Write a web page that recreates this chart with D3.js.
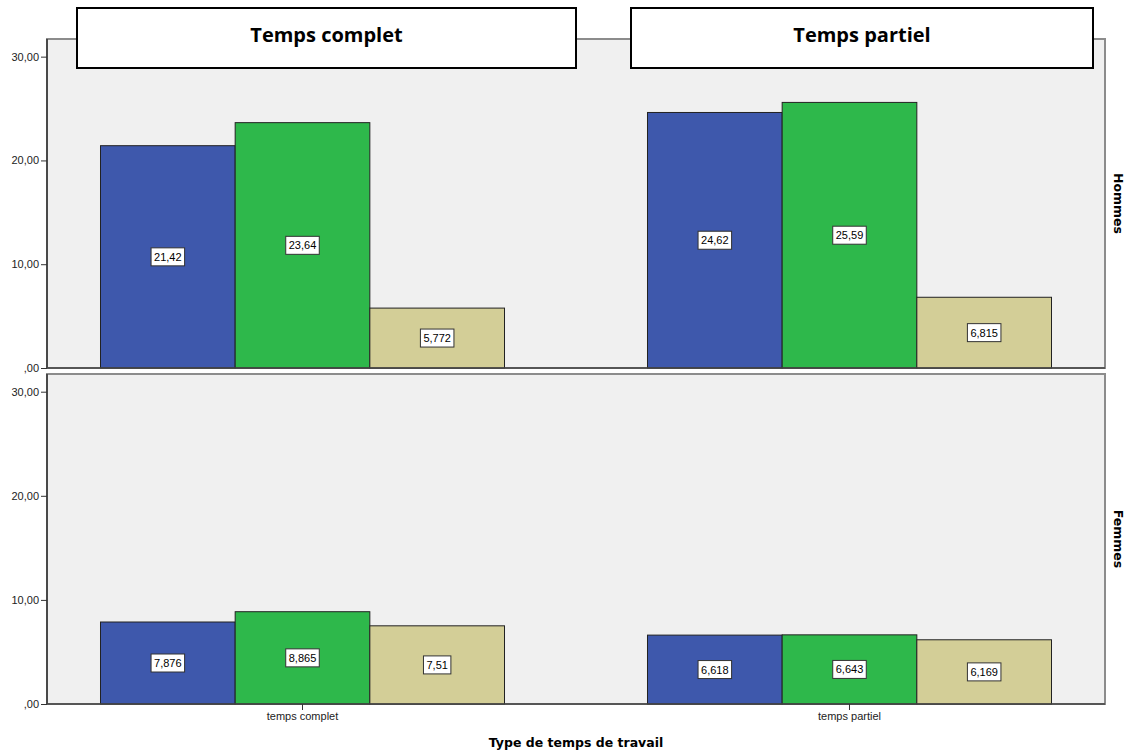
<!DOCTYPE html>
<html><head><meta charset="utf-8">
<script src="https://cdn.jsdelivr.net/npm/d3@7"></script>
<style>body{margin:0;background:#fff}svg{display:block}</style>
</head><body>
<svg id="c" width="1130" height="753"></svg>
<script>
// ---- data ----
const columns = ["temps complet", "temps partiel"];
const columnTitles = ["Temps complet", "Temps partiel"];
const rows = ["Hommes", "Femmes"];
const seriesKeys = ["s1", "s2", "s3"];
const hommesValues = [[21.42, 23.64, 5.772], [24.62, 25.59, 6.815]];
const femmesValues = [[7.876, 8.865, 7.51], [6.618, 6.643, 6.169]];
const yTicks = [0, 10, 20, 30];
const xTitle = "Type de temps de travail";

const colors = ["#3e58ac", "#2eb84b", "#d3ce97"];
const svg = d3.select("#c");
const font = "'Liberation Sans', Arial, sans-serif";
const boldFont = "'DejaVu Sans', Verdana, sans-serif";

const left = 47, right = 1105;
const panels = [
  {name: rows[0], top: 39, bottom: 368, values: hommesValues},
  {name: rows[1], top: 374, bottom: 704, values: femmesValues}
];

const x0 = d3.scaleBand().domain(columns).range([left, right]).paddingInner(0.2614).paddingOuter(0.0978);
const x1 = d3.scaleBand().domain(seriesKeys).range([0, x0.bandwidth()]).padding(0);

const fmtTick = v => v === 0 ? ",00" : d3.format(".2f")(v).replace(".", ",");
const fmtVal = v => d3.format(".4~r")(v).replace(".", ",");

panels.forEach(p => {
  const y = d3.scaleLinear().domain([0, 31.7]).range([p.bottom, p.top]);
  const g = svg.append("g");
  g.append("rect").attr("x", left).attr("y", p.top).attr("width", right - left).attr("height", p.bottom - p.top)
    .attr("fill", "#f0f0f0").attr("stroke", "#8c8c8c").attr("stroke-width", 2);
  const data = [];
  columns.forEach((c, ci) => seriesKeys.forEach((s, si) => data.push({c, s, si, v: p.values[ci][si]})));
  g.selectAll("rect.bar").data(data).join("rect").attr("class", "bar")
    .attr("x", d => x0(d.c) + x1(d.s)).attr("width", x1.bandwidth())
    .attr("y", d => y(d.v)).attr("height", d => y(0) - y(d.v))
    .attr("fill", d => colors[d.si]).attr("stroke", "#222").attr("stroke-width", 1);
  const lg = g.selectAll("g.lab").data(data).join("g").attr("class", "lab")
    .attr("transform", d => `translate(${x0(d.c) + x1(d.s) + x1.bandwidth() / 2},${(y(d.v) + y(0)) / 2})`);
  lg.each(function(d) {
    const t = fmtVal(d.v);
    const sel = d3.select(this);
    const txt = sel.append("text").attr("text-anchor", "middle").attr("dy", "0.36em")
      .attr("font-family", font).attr("font-size", 11).attr("fill", "#000").text(t);
    const w = txt.node().getComputedTextLength() + 6;
    sel.insert("rect", "text").attr("x", -w / 2).attr("y", -9).attr("width", w).attr("height", 18)
      .attr("fill", "#fff").attr("stroke", "#333").attr("stroke-width", 1);
  });
  const ax = g.append("g").attr("transform", `translate(${left},0)`)
    .call(d3.axisLeft(y).tickValues(yTicks).tickFormat(fmtTick).tickSize(6).tickSizeOuter(0));
  ax.select(".domain").attr("stroke", "#333").attr("stroke-width", 1.5).attr("d", `M0,${p.top}V${p.bottom}`);
  ax.selectAll(".tick line").attr("stroke", "#333");
  ax.selectAll(".tick text").attr("font-family", font).attr("font-size", 11).attr("fill", "#222").attr("x", -8);
  g.append("line").attr("x1", left).attr("x2", right).attr("y1", p.bottom).attr("y2", p.bottom)
    .attr("stroke", "#444").attr("stroke-width", 1.5);
  g.append("text").attr("transform", `translate(${1114},${(p.top + p.bottom) / 2}) rotate(90)`)
    .attr("text-anchor", "middle").attr("font-family", boldFont).attr("font-weight", "bold").attr("font-size", 12.5)
    .attr("fill", "#000").text(p.name);
});

const xa = svg.append("g").attr("transform", `translate(0,${panels[1].bottom})`)
  .call(d3.axisBottom(x0).tickSize(6).tickSizeOuter(0));
xa.select(".domain").remove();
xa.selectAll(".tick line").attr("stroke", "#333");
xa.selectAll(".tick text").attr("font-family", font).attr("font-size", 11).attr("fill", "#222").attr("y", 8);

svg.append("text").attr("x", (left + right) / 2).attr("y", 747).attr("text-anchor", "middle")
  .attr("font-family", boldFont).attr("font-weight", "bold").attr("font-size", 12.5).attr("fill", "#000").text(xTitle);

const boxes = [{x0: 77, x1: 576}, {x0: 631, x1: 1093}];
boxes.forEach((b, i) => {
  svg.append("rect").attr("x", b.x0).attr("y", 8).attr("width", b.x1 - b.x0).attr("height", 60)
    .attr("fill", "#fff").attr("stroke", "#000").attr("stroke-width", 2);
  svg.append("text").attr("x", (b.x0 + b.x1) / 2).attr("y", 42).attr("text-anchor", "middle")
    .attr("font-family", "'Open Sans', 'Liberation Sans', sans-serif").attr("font-weight", "bold").attr("font-size", 20)
    .attr("fill", "#000").text(columnTitles[i]);
});
</script>
</body></html>
